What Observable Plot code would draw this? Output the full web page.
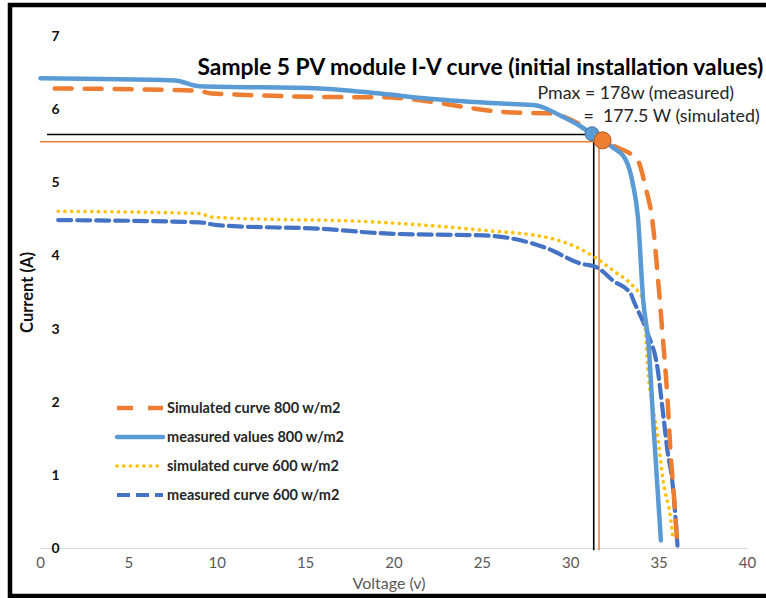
<!DOCTYPE html>
<html><head><meta charset="utf-8">
<script src="https://cdn.jsdelivr.net/npm/d3@7"></script>
<script src="https://cdn.jsdelivr.net/npm/@observablehq/plot@0.6"></script>
<style>html,body{margin:0;padding:0;background:#fff;overflow:hidden}</style>
</head><body>
<div id="chart"></div>
<script>
const titleText = "Sample 5 PV module I-V curve (initial installation values)";
const pmaxLines = ["Pmax = 178w (measured)", "=  177.5 W (simulated)"];
const xTicks = [0, 5, 10, 15, 20, 25, 30, 35, 40];
const yTicks = [0, 1, 2, 3, 4, 5, 6, 7];
const seriesNames = ["Simulated curve 800 w/m2", "measured values 800 w/m2", "simulated curve 600 w/m2", "measured curve 600 w/m2"];
const seriesColors = ["#ED7D31", "#5B9BD5", "#FFC000", "#4472C4"];

const sim800V = [0.8, 8.9, 9.7, 18.5, 19.2, 26.8, 28.7, 30.5, 31.8, 32.4, 33.8, 34.23, 34.62, 34.96, 35.19, 35.47, 35.64, 35.93, 36.04];
const sim800I = [6.29, 6.26, 6.22, 6.17, 6.17, 5.96, 5.95, 5.80, 5.58, 5.51, 5.30, 4.94, 4.48, 3.62, 2.94, 2.06, 1.34, 0.42, 0.0];

const meas800V = [0, 7.6, 9.0, 15.8, 19.2, 22.0, 26.4, 28.0, 29.4, 30.5, 31.2, 32.4, 33.1, 33.5, 33.8, 34.1, 34.4, 34.7, 35.1];
const meas800I = [6.43, 6.40, 6.32, 6.29, 6.22, 6.15, 6.08, 6.06, 5.92, 5.78, 5.67, 5.48, 5.32, 5.00, 4.53, 3.39, 2.80, 1.60, 0.11];

const sim600V = [1.0, 9.0, 9.7, 19.2, 25.1, 28.7, 30.5, 31.5, 32.4, 33.4, 33.9, 34.1, 34.35, 34.9, 35.25, 35.64, 35.8];
const sim600I = [4.61, 4.58, 4.53, 4.46, 4.35, 4.25, 4.10, 3.96, 3.80, 3.62, 3.48, 3.39, 2.48, 1.57, 0.89, 0.43, 0.11];

const meas600V = [1.0, 9.0, 10.0, 16.6, 18.6, 20.3, 25.1, 28.7, 30.5, 31.5, 32.4, 33.4, 33.55, 34.35, 34.9, 35.25, 35.47, 35.76, 36.04];
const meas600I = [4.49, 4.46, 4.42, 4.36, 4.32, 4.30, 4.28, 4.10, 3.90, 3.84, 3.66, 3.48, 3.39, 2.94, 2.48, 1.79, 1.34, 0.89, 0.04];

// maximum power points
const mppMeasured = {V: 31.2, I: 5.67};
const mppSimulated = {V: 31.8, I: 5.58};
const refMeasured = {V: 31.3, I: 5.66, V0: 0.4};
const refSimulated = {V: 31.6, I: 5.56, V0: 0};

const zip = (V, I) => V.map((v, i) => ({V: v, I: I[i]}));
const sim800 = zip(sim800V, sim800I);
const meas800 = zip(meas800V, meas800I);
const sim600 = zip(sim600V, sim600I);
const meas600 = zip(meas600V, meas600I);

const dashes = ["17,13", null, "0.1,6.6", "13,6"];
const widths = [4.5, 4.5, 3.6, 4.2];
const caps = ["butt", "round", "round", "butt"];

const FONT = "Lato, 'Open Sans', sans-serif";

function legend(index, scales, values, dims) {
  const g = d3.create("svg:g");
  seriesNames.forEach((name, i) => {
    const y = 408 + i * 29;
    g.append("line").attr("x1", 117).attr("x2", 163).attr("y1", y).attr("y2", y)
      .attr("stroke", seriesColors[i]).attr("stroke-width", widths[i])
      .attr("stroke-dasharray", i === 0 ? "16,15,15" : (dashes[i] || null))
      .attr("stroke-linecap", caps[i]);
    g.append("text").attr("x", 167).attr("y", y).attr("dy", "0.35em")
      .attr("text-anchor", "start")
      .attr("font-size", 14.5).attr("font-weight", "bold").attr("fill", "#262626")
      .attr("font-family", FONT).text(name);
  });
  return g.node();
}

const chart = Plot.plot({
  width: 766,
  height: 598,
  marginLeft: 40,
  marginRight: 19,
  marginTop: 36,
  marginBottom: 50,
  style: {fontFamily: FONT, background: "#fff"},
  x: {domain: [0, 40], axis: null},
  y: {domain: [0, 7], axis: null},
  marks: [
    Plot.ruleY([0], {stroke: "#d9d9d9", strokeWidth: 1.2}),
    // x tick labels
    Plot.text(xTicks, {x: d => d, frameAnchor: "bottom", dy: 19, fontSize: 15, fill: "#595959"}),
    // y tick labels
    Plot.text(yTicks, {x: 0, y: d => d, dx: 15, fontSize: 14, fontWeight: "bold", fill: "#111"}),
    // reference lines for max power points
    Plot.ruleY([refMeasured], {y: "I", x1: "V0", x2: "V", stroke: "#000", strokeWidth: 1.6}),
    Plot.ruleX([refMeasured], {x: "V", y1: -0.03, y2: "I", stroke: "#000", strokeWidth: 1.6}),
    Plot.ruleY([refSimulated], {y: "I", x1: "V0", x2: "V", stroke: "#ED7D31", strokeWidth: 1.5}),
    Plot.ruleX([refSimulated], {x: "V", y1: -0.03, y2: "I", stroke: "#ED7D31", strokeWidth: 1.5}),
    // curves
    Plot.line(meas600, {x: "V", y: "I", stroke: seriesColors[3], strokeWidth: widths[3], strokeDasharray: dashes[3], curve: "monotone-x"}),
    Plot.line(sim600, {x: "V", y: "I", stroke: seriesColors[2], strokeWidth: widths[2], strokeDasharray: dashes[2], strokeLinecap: "round", curve: "monotone-x"}),
    Plot.line(sim800, {x: "V", y: "I", stroke: seriesColors[0], strokeWidth: widths[0], strokeDasharray: dashes[0], curve: "monotone-x"}),
    Plot.line(meas800, {x: "V", y: "I", stroke: seriesColors[1], strokeWidth: widths[1], strokeLinecap: "round", curve: "monotone-x"}),
    // MPP markers
    Plot.dot([mppMeasured], {x: "V", y: "I", r: 7, fill: "#5B9BD5", stroke: "#41719C", strokeWidth: 1}),
    Plot.dot([mppSimulated], {x: "V", y: "I", r: 8.5, fill: "#ED7D31", stroke: "#AE5A21", strokeWidth: 1}),
    // title and annotations
    Plot.text([titleText], {frameAnchor: "top-left", dx: 157, dy: 22, textAnchor: "start", fontSize: 22.8, fontWeight: "bold", fill: "#000"}),
    Plot.text([pmaxLines[0]], {frameAnchor: "top-left", dx: 497, dy: 50, textAnchor: "start", fontSize: 17.8, fill: "#262626"}),
    Plot.text([pmaxLines[1]], {frameAnchor: "top-left", dx: 543, dy: 73, textAnchor: "start", fontSize: 17.8, fill: "#262626"}),
    // axis titles
    Plot.text(["Current (A)"], {frameAnchor: "left", textAnchor: "middle", dx: -13, dy: 0, rotate: -90, fontSize: 16.5, fontWeight: "bold", fill: "#111"}),
    Plot.text(["Voltage (v)"], {frameAnchor: "bottom", dx: -5, dy: 40, fontSize: 16, fill: "#595959"}),
    legend
  ]
});

const svg = d3.select(chart);
svg.append("rect").attr("x", 10).attr("y", 5).attr("width", 800).attr("height", 591)
  .attr("fill", "none").attr("stroke", "#000").attr("stroke-width", 4.5);
document.getElementById("chart").appendChild(chart);
</script>
</body></html>
